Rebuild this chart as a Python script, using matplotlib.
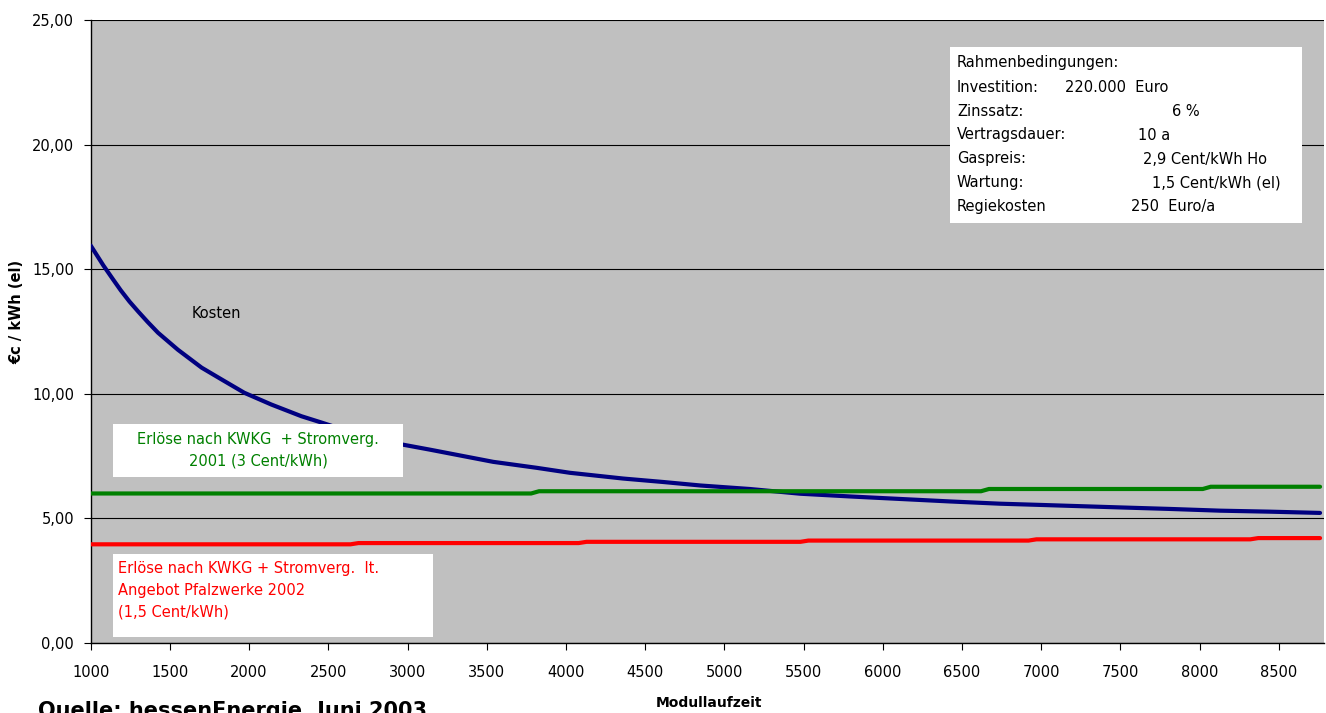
import matplotlib
matplotlib.use('Agg')
import matplotlib.pyplot as plt
from matplotlib.patches import Rectangle
from matplotlib.ticker import FuncFormatter

# values (Modullaufzeit in h, costs/revenues in ct/kWh)
x_kosten = [1000, 1045, 1080, 1140, 1190, 1245, 1300, 1360, 1425, 1550, 1700, 1825, 1970,
            2140, 2330, 2460, 2600, 2800, 2970, 3140, 3540, 3815, 4025, 4360, 4615, 4850,
            5160, 5480, 5795, 6110, 6425, 6740, 7000, 7500, 7810, 8130, 8445, 8760]
kosten = [15.95, 15.5, 15.15, 14.6, 14.15, 13.7, 13.3, 12.88, 12.45, 11.77, 11.05, 10.58, 10.04,
          9.57, 9.10, 8.84, 8.55, 8.2, 7.96, 7.76, 7.27, 7.03, 6.83, 6.60, 6.46, 6.32,
          6.18, 5.99, 5.88, 5.78, 5.68, 5.59, 5.54, 5.44, 5.38, 5.31, 5.27, 5.22]

x_gruen = [1000, 3780, 3830, 6620, 6670, 8020, 8070, 8760]
gruen = [6.0, 6.0, 6.09, 6.09, 6.18, 6.18, 6.27, 6.27]

x_rot = [1000, 2640, 2690, 4080, 4130, 5480, 5530, 6920, 6970, 8320, 8370, 8760]
rot = [3.96, 3.96, 4.01, 4.01, 4.06, 4.06, 4.11, 4.11, 4.16, 4.16, 4.21, 4.21]

x_ticks = list(range(1000, 9000, 500))
y_ticks = [0, 5, 10, 15, 20, 25]

param_labels = ['Rahmenbedingungen:', 'Investition:', 'Zinssatz:', 'Vertragsdauer:',
                'Gaspreis:', 'Wartung:', 'Regiekosten']
param_values = ['', '220.000  Euro', '6 %', '10 a', '2,9 Cent/kWh Ho',
                '1,5 Cent/kWh (el)', '250  Euro/a']
param_value_x = [0, 1065, 1172, 1138, 1143, 1152, 1131]

W, H = 1326, 713
plt.rcParams['font.family'] = ['DejaVu Sans']
plt.rcParams['font.size'] = 10.5

fig = plt.figure(figsize=[W / 100, H / 100], dpi=100)
ax = fig.add_axes([90.7 / W, 1 - 643 / H, (1324 - 90.7) / W, (643 - 20) / H])

def fx(px):
    return px / W

def fy(py):
    return 1 - py / H

ax.set_facecolor('#C0C0C0')
ax.plot(x_kosten, kosten, color='#000080', linewidth=3, solid_capstyle='round',
        solid_joinstyle='round', zorder=3)
ax.plot(x_gruen, gruen, color='#008000', linewidth=3, solid_capstyle='round', zorder=3)
ax.plot(x_rot, rot, color='#FF0000', linewidth=3, solid_capstyle='round', zorder=3)

ax.set_xlim(1000, 8785)
ax.set_ylim(0, 25)
ax.set_xticks(x_ticks)
ax.set_yticks(y_ticks)
ax.yaxis.set_major_formatter(FuncFormatter(lambda v, p: ('%.2f' % v).replace('.', ',')))
ax.grid(axis='y', color='black', linewidth=0.8)
ax.set_axisbelow(True)
ax.tick_params(axis='x', direction='out', length=5, pad=11, color='black')
ax.tick_params(axis='y', direction='out', length=5, pad=7, color='black')
for s in ['top', 'right']:
    ax.spines[s].set_visible(False)
for s in ['left', 'bottom']:
    ax.spines[s].set_color('black')
    ax.spines[s].set_linewidth(1)

fig.text(fx(17), fy(312), '€c / kWh (el)', rotation=90, ha='center', va='center',
         fontweight='bold', fontsize=10.5)
fig.text(fx(709), fy(703), 'Modullaufzeit', ha='center', va='center',
         fontweight='bold', fontsize=10)
# source note sits on the lower edge, partly cut off as in the original
fig.text(fx(38), fy(717), 'Quelle: hessenEnergie, Juni 2003', ha='left', va='baseline',
         fontweight='bold', fontsize=15)

fig.text(fx(216), fy(313), 'Kosten', ha='center', va='center')

# Rahmenbedingungen box
fig.add_artist(Rectangle((fx(950), fy(223)), fx(1302) - fx(950), fy(47) - fy(223),
                         transform=fig.transFigure, facecolor='white', edgecolor='none', zorder=4))
for i in range(len(param_labels)):
    y = fy(63 + 24 * i)
    fig.text(fx(957), y, param_labels[i], ha='left', va='center', zorder=5)
    if param_values[i]:
        fig.text(fx(param_value_x[i]), y, param_values[i], ha='left', va='center', zorder=5)

# green label box
fig.add_artist(Rectangle((fx(113), fy(477)), fx(403) - fx(113), fy(424) - fy(477),
                         transform=fig.transFigure, facecolor='white', edgecolor='none', zorder=4))
fig.text(fx(258), fy(450), 'Erlöse nach KWKG  + Stromverg.\n2001 (3 Cent/kWh)', ha='center',
         va='center', color='#008000', linespacing=1.5, zorder=5)

# red label box
fig.add_artist(Rectangle((fx(113), fy(637)), fx(433) - fx(113), fy(554) - fy(637),
                         transform=fig.transFigure, facecolor='white', edgecolor='none', zorder=4))
fig.text(fx(118), fy(590), 'Erlöse nach KWKG + Stromverg.  lt.\nAngebot Pfalzwerke 2002\n(1,5 Cent/kWh)',
         ha='left', va='center', color='#FF0000', linespacing=1.55, zorder=5)

plt.savefig('out.png', dpi=100)
